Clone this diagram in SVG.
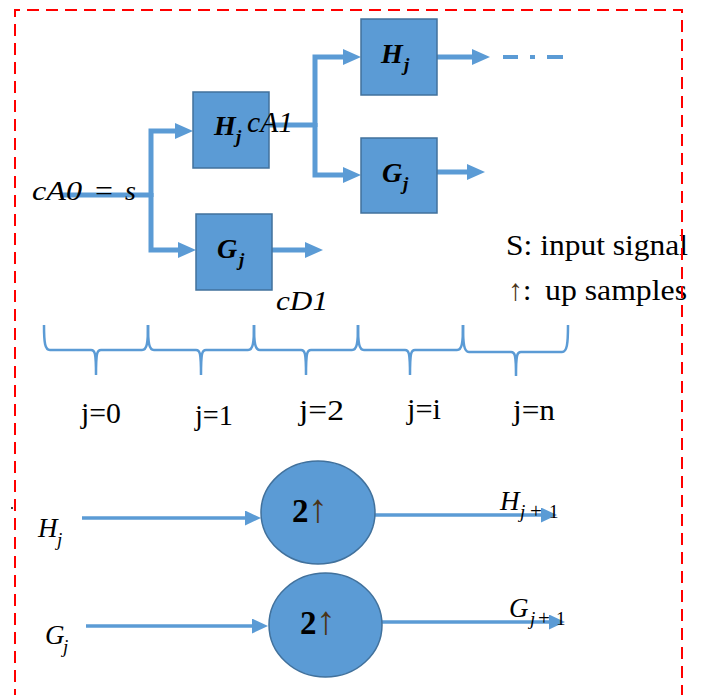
<svg xmlns="http://www.w3.org/2000/svg" width="702" height="695" viewBox="0 0 702 695">
<style>
.box{fill:#5B9BD5;stroke:#41719C;stroke-width:1.5}
.c{fill:none;stroke:#5B9BD5;stroke-width:5;stroke-linejoin:miter}
.t{fill:none;stroke:#5B9BD5;stroke-width:3.5}
.br{fill:none;stroke:#5B9BD5;stroke-width:2.5}
.m{font-family:"Liberation Serif","Times New Roman",serif;font-style:italic;fill:#000}
.mb{font-family:"Liberation Serif","Times New Roman",serif;font-style:italic;font-weight:bold;fill:#000}
.r{font-family:"Liberation Serif","Times New Roman",serif;fill:#000}
.up{font-family:"Liberation Serif","Times New Roman",serif;fill:#4a3418}
</style>
<defs>
<marker id="ah" markerUnits="userSpaceOnUse" markerWidth="18" markerHeight="16" refX="8" refY="8" orient="auto"><path d="M0,0 L18,8 L0,16 Z" fill="#5B9BD5"/></marker>
<marker id="ahs" markerUnits="userSpaceOnUse" markerWidth="16" markerHeight="15" refX="6" refY="7.5" orient="auto"><path d="M0,0 L16,7.5 L0,15 Z" fill="#5B9BD5"/></marker>
</defs>

<g id="connectors">
<path class="c" d="M60,195 H151"/>
<path class="c" d="M151,197 V131 H183" marker-end="url(#ah)"/>
<path class="c" d="M151,193 V250 H186" marker-end="url(#ah)"/>
<path class="c" d="M272,250 H313" marker-end="url(#ah)"/>
<path class="c" d="M269,125 H315"/>
<path class="c" d="M315,127 V57 H351" marker-end="url(#ah)"/>
<path class="c" d="M315,123 V175 H351" marker-end="url(#ah)"/>
<path class="c" d="M437,57 H480" marker-end="url(#ah)"/>
<path class="c" d="M437,172 H475" marker-end="url(#ah)"/>
<path class="c" style="stroke-width:4" d="M503,57 H518 M530,57 H535 M547,57 H563"/>
<path class="t" d="M82,518 H251" marker-end="url(#ahs)"/>
<path class="t" d="M375,515 H547" marker-end="url(#ahs)"/>
<path class="t" d="M86,626 H258" marker-end="url(#ahs)"/>
<path class="t" d="M382,622 H555" marker-end="url(#ahs)"/>
</g>

<g id="braces">
<path class="br" d="M44,325 C44,343 45,350 50,350 H91 C95,350 96,353 96,375 C96,353 97,350 101,350 H142 C147,350 148,343 148,325"/>
<path class="br" d="M148,325 C148,343 149,350 154,350 H196 C200,350 201,353 201,375 C201,353 202,350 206,350 H248 C253,350 254,343 254,325"/>
<path class="br" d="M254,325 C254,343 255,350 260,350 H301 C305,350 306,353 306,375 C306,353 307,350 311,350 H352 C357,350 358,343 358,325"/>
<path class="br" d="M358,325 C358,343 359,350 364,350 H405 C409,350 410,353 410,375 C410,353 411,350 415,350 H457 C462,350 463,343 463,325"/>
<path class="br" d="M463,325 C463,344 464,352 469,352 H511 C515,352 516,355 516,376 C516,355 517,352 521,352 H562 C567,352 568,344 568,325"/>
</g>

<g id="node-h1">
<rect class="box" x="193" y="92" width="76" height="76"/>
<text class="mb" x="214" y="135" font-size="28">H</text>
<text class="mb" x="236" y="143" font-size="19">j</text>
</g>
<g id="node-g1">
<rect class="box" x="196" y="214" width="76" height="76"/>
<text class="mb" x="217" y="258" font-size="28">G</text>
<text class="mb" x="239" y="266" font-size="19">j</text>
</g>
<g id="node-h2">
<rect class="box" x="361" y="19" width="76" height="76"/>
<text class="mb" x="381" y="63" font-size="28">H</text>
<text class="mb" x="404" y="71" font-size="19">j</text>
</g>
<g id="node-g2">
<rect class="box" x="361" y="138" width="76" height="75"/>
<text class="mb" x="382" y="182" font-size="28">G</text>
<text class="mb" x="403" y="190" font-size="19">j</text>
</g>

<g id="labels">
<text class="m" x="32" y="200" font-size="27" textLength="50" lengthAdjust="spacingAndGlyphs">cA0</text>
<text class="r" x="95" y="200" font-size="27" textLength="18" lengthAdjust="spacingAndGlyphs">=</text>
<text class="m" x="125" y="200" font-size="28">s</text>
<text class="m" x="247" y="132" font-size="29" textLength="46" lengthAdjust="spacingAndGlyphs">cA1</text>
<text class="m" x="276" y="310" font-size="28" textLength="52" lengthAdjust="spacingAndGlyphs">cD1</text>
<text class="r" x="506" y="255" font-size="30" textLength="182" lengthAdjust="spacingAndGlyphs">S: input signal</text>
<text class="r" x="508" y="300" font-size="30"><tspan fill="#4a3418">↑</tspan>:</text>
<text class="r" x="545" y="300" font-size="30" textLength="142" lengthAdjust="spacingAndGlyphs">up samples</text>
<text class="r" x="81" y="423" font-size="30" textLength="40" lengthAdjust="spacingAndGlyphs">j=0</text>
<text class="r" x="195" y="425" font-size="30" textLength="38" lengthAdjust="spacingAndGlyphs">j=1</text>
<text class="r" x="299" y="420" font-size="30" textLength="45" lengthAdjust="spacingAndGlyphs">j=2</text>
<text class="r" x="407" y="419" font-size="30" textLength="34" lengthAdjust="spacingAndGlyphs">j=i</text>
<text class="r" x="513" y="420" font-size="30" textLength="42" lengthAdjust="spacingAndGlyphs">j=n</text>
<circle cx="12" cy="508" r="1" fill="#000"/>
</g>

<g id="node-hin">
<text class="m" x="38" y="537" font-size="27">H</text>
<text class="m" x="57" y="546" font-size="19">j</text>
</g>
<g id="node-gin">
<text class="m" x="45" y="644" font-size="27">G</text>
<text class="m" x="63" y="653" font-size="19">j</text>
</g>
<g id="node-up1">
<ellipse class="box" cx="318" cy="512.5" rx="57" ry="51.5"/>
<text class="r" x="292" y="522" font-size="33" font-weight="bold">2</text>
<text class="up" x="308" y="522" font-size="40">↑</text>
</g>
<g id="node-up2">
<ellipse class="box" cx="325.5" cy="625" rx="56.5" ry="52"/>
<text class="r" x="300" y="634" font-size="33" font-weight="bold">2</text>
<text class="up" x="316" y="634" font-size="40">↑</text>
</g>
<g id="node-hout">
<text class="m" x="500" y="510" font-size="27">H</text>
<text class="m" x="520" y="518" font-size="19">j</text>
<text class="r" x="530" y="518" font-size="21">+</text>
<text class="r" x="549" y="518" font-size="19">1</text>
</g>
<g id="node-gout">
<text class="m" x="509" y="617" font-size="27">G</text>
<text class="m" x="530" y="625" font-size="19">j</text>
<text class="r" x="538" y="625" font-size="21">+</text>
<text class="r" x="556" y="625" font-size="19">1</text>
</g>

<path id="frame" d="M15,720 V10 H682 V720" fill="none" stroke="#FF0000" stroke-width="2" stroke-dasharray="12 7"/>
</svg>
